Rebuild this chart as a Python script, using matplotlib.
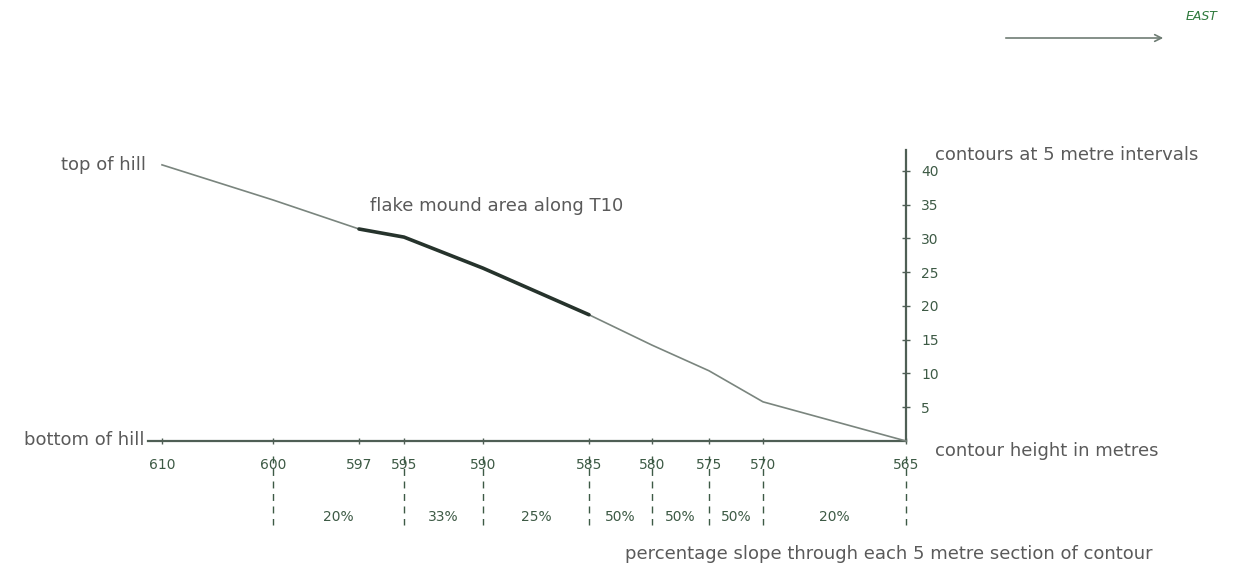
import matplotlib
matplotlib.use("Agg")
import matplotlib.pyplot as plt
from matplotlib.patches import FancyArrowPatch

# ---- data ----
contour_labels = ["610", "600", "597", "595", "590", "585", "580", "575", "570", "565"]
distance = [14, 125, 211, 256, 335, 441, 504, 561, 615, 758]     # horizontal position along profile
height = [40.9, 35.7, 31.4, 30.2, 25.6, 18.7, 14.2, 10.4, 5.8, 0.0]  # height above base (m)
flake_start, flake_end = 2, 5          # thick segment 597 -> 585
section_bounds = [1, 3, 4, 5, 6, 7, 8, 9]   # indices of dashed section lines (600..565)
slope_labels = ["20%", "33%", "25%", "50%", "50%", "50%", "20%"]
y_ticks = [5, 10, 15, 20, 25, 30, 35, 40]

W, H = 1234, 568
fig = plt.figure(figsize=(W / 100, H / 100), dpi=100)
fig.patch.set_facecolor("white")

x0, x1 = 148, 906
yb, yt = 441, 150
ax = fig.add_axes([x0 / W, 1 - yb / H, (x1 - x0) / W, (yb - yt) / H])
ax.set_xlim(0, x1 - x0)
ax.set_ylim(0, 43.1)
ax.set_facecolor("none")

axis_col = "#4f5f55"
line_col = "#7a857e"
hand_col = "#3d5a45"
text_col = "#5a5a5a"

for s in ["top", "left"]:
    ax.spines[s].set_visible(False)
ax.spines["bottom"].set_color(axis_col)
ax.spines["right"].set_color(axis_col)
ax.spines["bottom"].set_linewidth(1.6)
ax.spines["right"].set_linewidth(1.6)

# profile
ax.plot(distance, height, color=line_col, lw=1.2, clip_on=False, zorder=3)
ax.plot(distance[flake_start:flake_end + 1], height[flake_start:flake_end + 1],
        color="#26332c", lw=2.6, solid_capstyle="round", clip_on=False, zorder=4)

# x ticks
ax.set_xticks(distance)
ax.set_xticklabels(contour_labels, color=hand_col, fontsize=10)
ax.tick_params(axis="x", direction="inout", length=5, width=1, color=axis_col, pad=10)

# y ticks on the right
ax.yaxis.tick_right()
ax.set_yticks(y_ticks)
ax.set_yticklabels([str(v) for v in y_ticks], color=hand_col, fontsize=10)
ax.tick_params(axis="y", direction="inout", length=6, width=1, color=axis_col, pad=8)

# section dashed lines and slope labels
for i in section_bounds:
    ax.plot([distance[i], distance[i]], [-2.2, -12.5], color=hand_col, lw=1,
            ls=(0, (5, 4)), clip_on=False)
for k, lab in enumerate(slope_labels):
    a, b = section_bounds[k], section_bounds[k + 1]
    xm = (distance[a] + distance[b]) / 2
    ax.text(xm, -11.2, lab, color=hand_col, fontsize=10, ha="center", va="center",
            clip_on=False)

# annotations
def ftext(px, py, s, **kw):
    fig.text(px / W, 1 - py / H, s, **kw)

fs = 13
ftext(146, 165, "top of hill", ha="right", va="center", color=text_col, fontsize=fs)
ftext(144, 440, "bottom of hill", ha="right", va="center", color=text_col, fontsize=fs)
ftext(497, 206, "flake mound area along T10", ha="center", va="center", color=text_col, fontsize=fs)
ftext(935, 164, "contours at 5 metre intervals", ha="left", va="bottom", color=text_col, fontsize=fs)
ftext(935, 451, "contour height in metres", ha="left", va="center", color=text_col, fontsize=fs)
ftext(625, 554, "percentage slope through each 5 metre section of contour",
      ha="left", va="center", color=text_col, fontsize=fs)
ftext(1186, 17, "EAST", ha="left", va="center", color="#2f7a3d", fontsize=9, style="italic")

arr = FancyArrowPatch((1003 / W, 1 - 38 / H), (1166 / W, 1 - 38 / H),
                      transform=fig.transFigure, arrowstyle="->", mutation_scale=12,
                      color="#6f7d74", lw=1.2)
fig.add_artist(arr)

fig.savefig("out.png", dpi=100, facecolor="white")
